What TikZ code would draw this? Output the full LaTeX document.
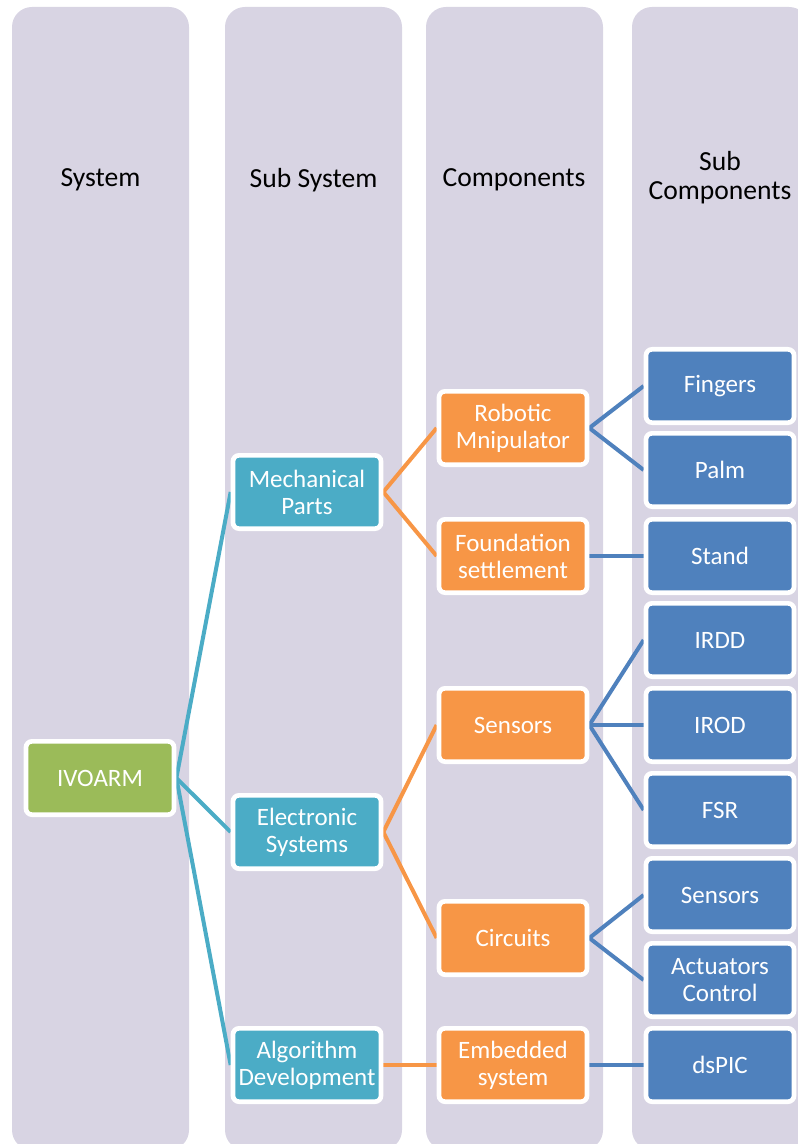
\documentclass[tikz,border=0pt]{standalone}
\usepackage{fontspec}
\setmainfont{Carlito}
\definecolor{laneclr}{HTML}{D8D4E3}
\definecolor{sysclr}{HTML}{9BBB59}
\definecolor{subclr}{HTML}{4BACC6}
\definecolor{compclr}{HTML}{F79646}
\definecolor{partclr}{HTML}{4F81BD}
\pgfdeclarelayer{lanes}
\pgfdeclarelayer{links}
\pgfsetlayers{lanes,links,main}
\tikzset{
  box/.style={draw=white, line width=3.5pt, rounded corners=4.5pt,
    minimum width=111pt, minimum height=55pt, inner sep=2pt,
    align=center, text=white, font=\fontsize{18.75}{20.25}\selectfont},
  sys box/.style={box, fill=sysclr},
  sub box/.style={box, fill=subclr},
  comp box/.style={box, fill=compclr},
  part box/.style={box, fill=partclr},
  link/.style={line width=3pt},
  lane/.style={fill=laneclr, rounded corners=15pt},
  lane title/.style={align=center, font=\fontsize{20.7}{21.75}\selectfont}
}

\begin{document}
\begin{tikzpicture}[x=0.75pt, y=-0.75pt]

  \useasboundingbox (0,0) rectangle (797,1144);

  % Lanes
  \begin{pgfonlayer}{lanes}
    \fill[lane] (12,7) rectangle (189,1150);
    \fill[lane] (225,7) rectangle (402,1150);
    \fill[lane] (426,7) rectangle (603,1150);
    \fill[lane] (632,7) rectangle (809,1150);
  \end{pgfonlayer}

  % Lane titles
  \node[lane title] (tsys)  at (100.5,180) {System};
  \node[lane title] (tsub)  at (313.5,180) {Sub System};
  \node[lane title] (tcomp) at (514,180)   {Components};
  \node[lane title] (tpart) at (720,178)   {Sub\\Components};

  % System
  \node[sys box] (sys) at (100,778) {IVOARM};

  % Sub systems
  \node[sub box] (mech) at (307,492)  {Mechanical\\Parts};
  \node[sub box] (elec) at (307,832)  {Electronic\\Systems};
  \node[sub box] (algo) at (307,1065) {Algorithm\\Development};

  % Components
  \node[comp box] (robo)  at (513,428)  {Robotic\\Mnipulator};
  \node[comp box] (found) at (513,556)  {Foundation\\settlement};
  \node[comp box] (sens)  at (513,725)  {Sensors};
  \node[comp box] (circ)  at (513,938)  {Circuits};
  \node[comp box] (embd)  at (513,1065) {Embedded\\system};

  % Sub components
  \node[part box] (fing)    at (720,386)  {Fingers};
  \node[part box] (palm)    at (720,470)  {Palm};
  \node[part box] (stand)   at (720,556)  {Stand};
  \node[part box] (irdd)    at (720,640)  {IRDD};
  \node[part box] (irod)    at (720,725)  {IROD};
  \node[part box] (fsr)     at (720,810)  {FSR};
  \node[part box] (subsens) at (720,895)  {Sensors};
  \node[part box] (act)     at (720,980)  {Actuators\\Control};
  \node[part box] (dspic)   at (720,1065) {dsPIC};

  % Connectors
  \begin{pgfonlayer}{links}
    \draw[link, subclr] (sys.east) -- (mech.west);
    \draw[link, subclr] (sys.east) -- (elec.west);
    \draw[link, subclr] (sys.east) -- (algo.west);

    \draw[link, compclr] (mech.east) -- (robo.west);
    \draw[link, compclr] (mech.east) -- (found.west);
    \draw[link, compclr] (elec.east) -- (sens.west);
    \draw[link, compclr] (elec.east) -- (circ.west);
    \draw[link, compclr] (algo.east) -- (embd.west);

    \draw[link, partclr] (robo.east) -- (fing.west);
    \draw[link, partclr] (robo.east) -- (palm.west);
    \draw[link, partclr] (found.east) -- (stand.west);
    \draw[link, partclr] (sens.east) -- (irdd.west);
    \draw[link, partclr] (sens.east) -- (irod.west);
    \draw[link, partclr] (sens.east) -- (fsr.west);
    \draw[link, partclr] (circ.east) -- (subsens.west);
    \draw[link, partclr] (circ.east) -- (act.west);
    \draw[link, partclr] (embd.east) -- (dspic.west);
  \end{pgfonlayer}

\end{tikzpicture}
\end{document}
